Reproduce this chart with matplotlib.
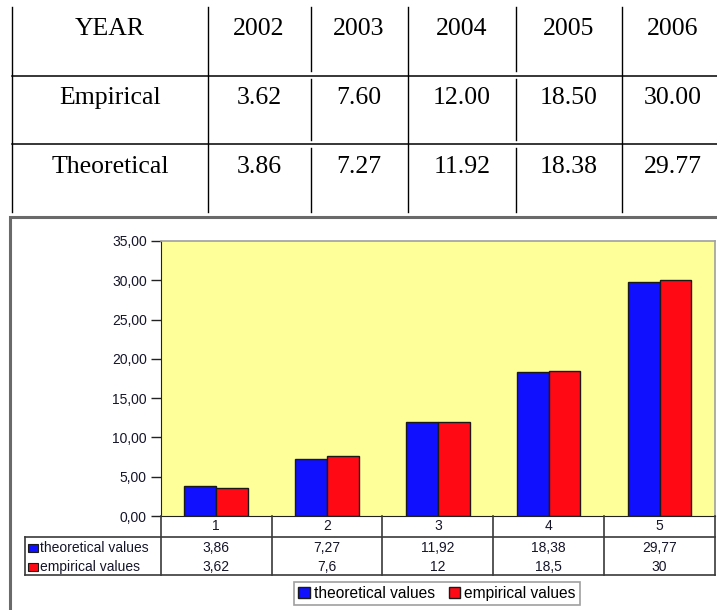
import matplotlib
matplotlib.use("Agg")
import matplotlib.pyplot as plt
from matplotlib.lines import Line2D
from matplotlib.patches import Rectangle
from matplotlib.ticker import FuncFormatter, MultipleLocator
import matplotlib.transforms as mtransforms

# data
years = [2002, 2003, 2004, 2005, 2006]
empirical = [3.62, 7.60, 12.00, 18.50, 30.00]
theoretical = [3.86, 7.27, 11.92, 18.38, 29.77]
categories = [1, 2, 3, 4, 5]
series_names = ["theoretical values", "empirical values"]

W, H = 717, 610
BLUE = "#1010ff"
RED = "#ff0a14"
YELLOW = "#ffff99"
SERIF = "Liberation Serif"
SANS = "Liberation Sans"


def fx(px):
    return px / W


def fy(py):
    return 1 - py / H


fig = plt.figure(figsize=(W / 100, H / 100), dpi=100)


def hline(x0, x1, y, color="black", lw=1.0):
    fig.add_artist(Line2D([fx(x0), fx(x1)], [fy(y), fy(y)], color=color, lw=lw,
                          transform=fig.transFigure))


def vline(x, y0, y1, color="black", lw=1.0):
    fig.add_artist(Line2D([fx(x), fx(x)], [fy(y0), fy(y1)], color=color, lw=lw,
                          transform=fig.transFigure))


# ---- text table on top ----
col_lines = [11.7, 208, 310.7, 408, 515.7, 621.7]
col_centers = [110, 259, 359, 462, 569, 673]
row_lines = [75.7, 144]
baselines = [35, 104, 172.7]

for y in row_lines:
    hline(11.7, W, y, lw=1.1)
for i, x in enumerate(col_lines):
    if i in (2, 4):
        # these lines break around the row rules
        vline(x, 7, 71)
        vline(x, 79, 140)
        vline(x, 148, 212)
    else:
        vline(x, 7, 212)

rows = [
    ["YEAR"] + [str(y) for y in years],
    ["Empirical"] + [f"{v:.2f}" for v in empirical],
    ["Theoretical"] + [f"{v:.2f}" for v in theoretical],
]
for r, row in enumerate(rows):
    for c, txt in enumerate(row):
        fig.text(fx(col_centers[c]), fy(baselines[r]), txt, ha="center",
                 va="baseline", family=SERIF, fontsize=18.5, color="black")

# ---- chart frame ----
fig.add_artist(Rectangle((fx(10), fy(H + 20)), fx(W + 20) - fx(10), fy(216.7) - fy(H + 20),
                         transform=fig.transFigure, fill=False, edgecolor="#6a6a6a", lw=2.2))

# ---- bar chart ----
plot_l, plot_r, plot_t, plot_b = 160.7, 715, 241, 516
ax = fig.add_axes([fx(plot_l), fy(plot_b), fx(plot_r) - fx(plot_l), fy(plot_t) - fy(plot_b)])
ax.set_facecolor(YELLOW)

bw = 1 / 3.5
xs = list(categories)
bars_t = ax.bar([x - bw / 2 for x in xs], theoretical, width=bw, color=BLUE,
                edgecolor="#1a1a1a", lw=1.0, label=series_names[0])
bars_e = ax.bar([x + bw / 2 for x in xs], empirical, width=bw, color=RED,
                edgecolor="#1a1a1a", lw=1.0, label=series_names[1])

ax.set_xlim(0.5, 5.5)
ax.set_ylim(0, 35)
ax.yaxis.set_major_locator(MultipleLocator(5))
ax.yaxis.set_major_formatter(FuncFormatter(lambda v, _: f"{v:.2f}".replace(".", ",")))
ax.tick_params(axis="y", length=7, width=1, color="#222222", pad=3,
               labelsize=10, labelcolor="#15152a")
for lab in ax.get_yticklabels():
    lab.set_family(SANS)
ax.set_xticks([])
for side in ("top", "right"):
    ax.spines[side].set_color("#a0a0a0")
    ax.spines[side].set_linewidth(1.2)
ax.spines["left"].set_color("#222222")
ax.spines["bottom"].set_color("#222222")

# ---- data table under the axis ----
trans = mtransforms.blended_transform_factory(ax.transData, fig.transFigure)
tbl_top, tbl_mid, tbl_bot = plot_b, 537, 575
grid_c = "#3a3a3a"
edges = [c - 0.5 for c in categories] + [categories[-1] + 0.5]
for e in edges:
    fig.add_artist(Line2D([e, e], [fy(tbl_top), fy(tbl_bot)], color=grid_c, lw=1.2,
                          transform=trans))
hline(25, plot_r, tbl_mid, color=grid_c, lw=1.2)
hline(25, plot_r, tbl_bot, color=grid_c, lw=1.2)
vline(25, tbl_mid, tbl_bot, color=grid_c, lw=1.2)

for c in categories:
    fig.text(c, fy(526.5), str(c), transform=trans, ha="center", va="center",
             family=SANS, fontsize=10, color="#15152a")

row_y = [547.7, 566.7]
for vals, y, name, col in zip([theoretical, empirical], row_y, series_names, [BLUE, RED]):
    fig.add_artist(Rectangle((fx(28.3), fy(y + 4)), fx(10), fy(0) - fy(8),
                             transform=fig.transFigure, facecolor=col,
                             edgecolor="#1a1a1a", lw=0.8))
    fig.text(fx(40.5), fy(y), name, ha="left", va="center", family=SANS,
             fontsize=10, color="#15152a")
    for c, v in zip(categories, vals):
        fig.text(c, fy(y), f"{v:g}".replace(".", ","), transform=trans,
                 ha="center", va="center", family=SANS, fontsize=10, color="#15152a")

# ---- legend ----
leg = fig.legend(handles=[bars_t, bars_e], labels=series_names, ncol=2,
                 loc="center", bbox_to_anchor=(fx(437), fy(593.5)),
                 frameon=True, fancybox=False, edgecolor="#888888",
                 prop={"family": SANS, "size": 11.2},
                 handlelength=0.75, handleheight=0.75, handletextpad=0.25,
                 columnspacing=0.9, borderpad=0.25, borderaxespad=0)
leg.get_frame().set_linewidth(1.2)

fig.savefig("out.png", dpi=100)
